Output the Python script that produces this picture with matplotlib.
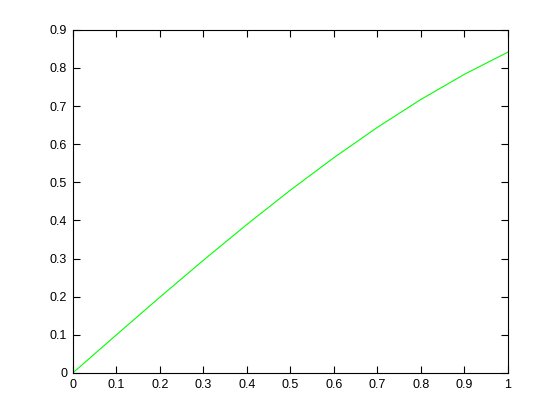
import matplotlib
matplotlib.use("Agg")
import matplotlib.pyplot as plt

plt.rcParams['font.family'] = ['Liberation Sans', 'DejaVu Sans']

# values
x_vals = [0.0, 0.1, 0.2, 0.3, 0.4, 0.5, 0.6, 0.7, 0.8, 0.9, 1.0]
y_vals = [0.0, 0.0998, 0.1987, 0.2955, 0.3894, 0.4794, 0.5646, 0.6442, 0.7174, 0.7833, 0.8415]

x_ticks = [0, 0.1, 0.2, 0.3, 0.4, 0.5, 0.6, 0.7, 0.8, 0.9, 1]
y_ticks = [0, 0.1, 0.2, 0.3, 0.4, 0.5, 0.6, 0.7, 0.8, 0.9]

fig = plt.figure(figsize=(5.6, 4.2), dpi=100)
ax = fig.add_axes([0.13, 0.112, 0.777, 0.817])

ax.plot(x_vals, y_vals, color="#00ff00", linewidth=0.8)

ax.set_xlim(0, 1)
ax.set_ylim(0, 0.9)
ax.set_xticks(x_ticks)
ax.set_yticks(y_ticks)
ax.set_xticklabels([f"{t:g}" for t in x_ticks])
ax.set_yticklabels([f"{t:g}" for t in y_ticks])

ax.tick_params(direction="in", top=True, right=True, length=5, width=0.8,
               labelsize=9, pad=4)
for s in ax.spines.values():
    s.set_linewidth(0.8)

fig.savefig("out.png", dpi=100)
